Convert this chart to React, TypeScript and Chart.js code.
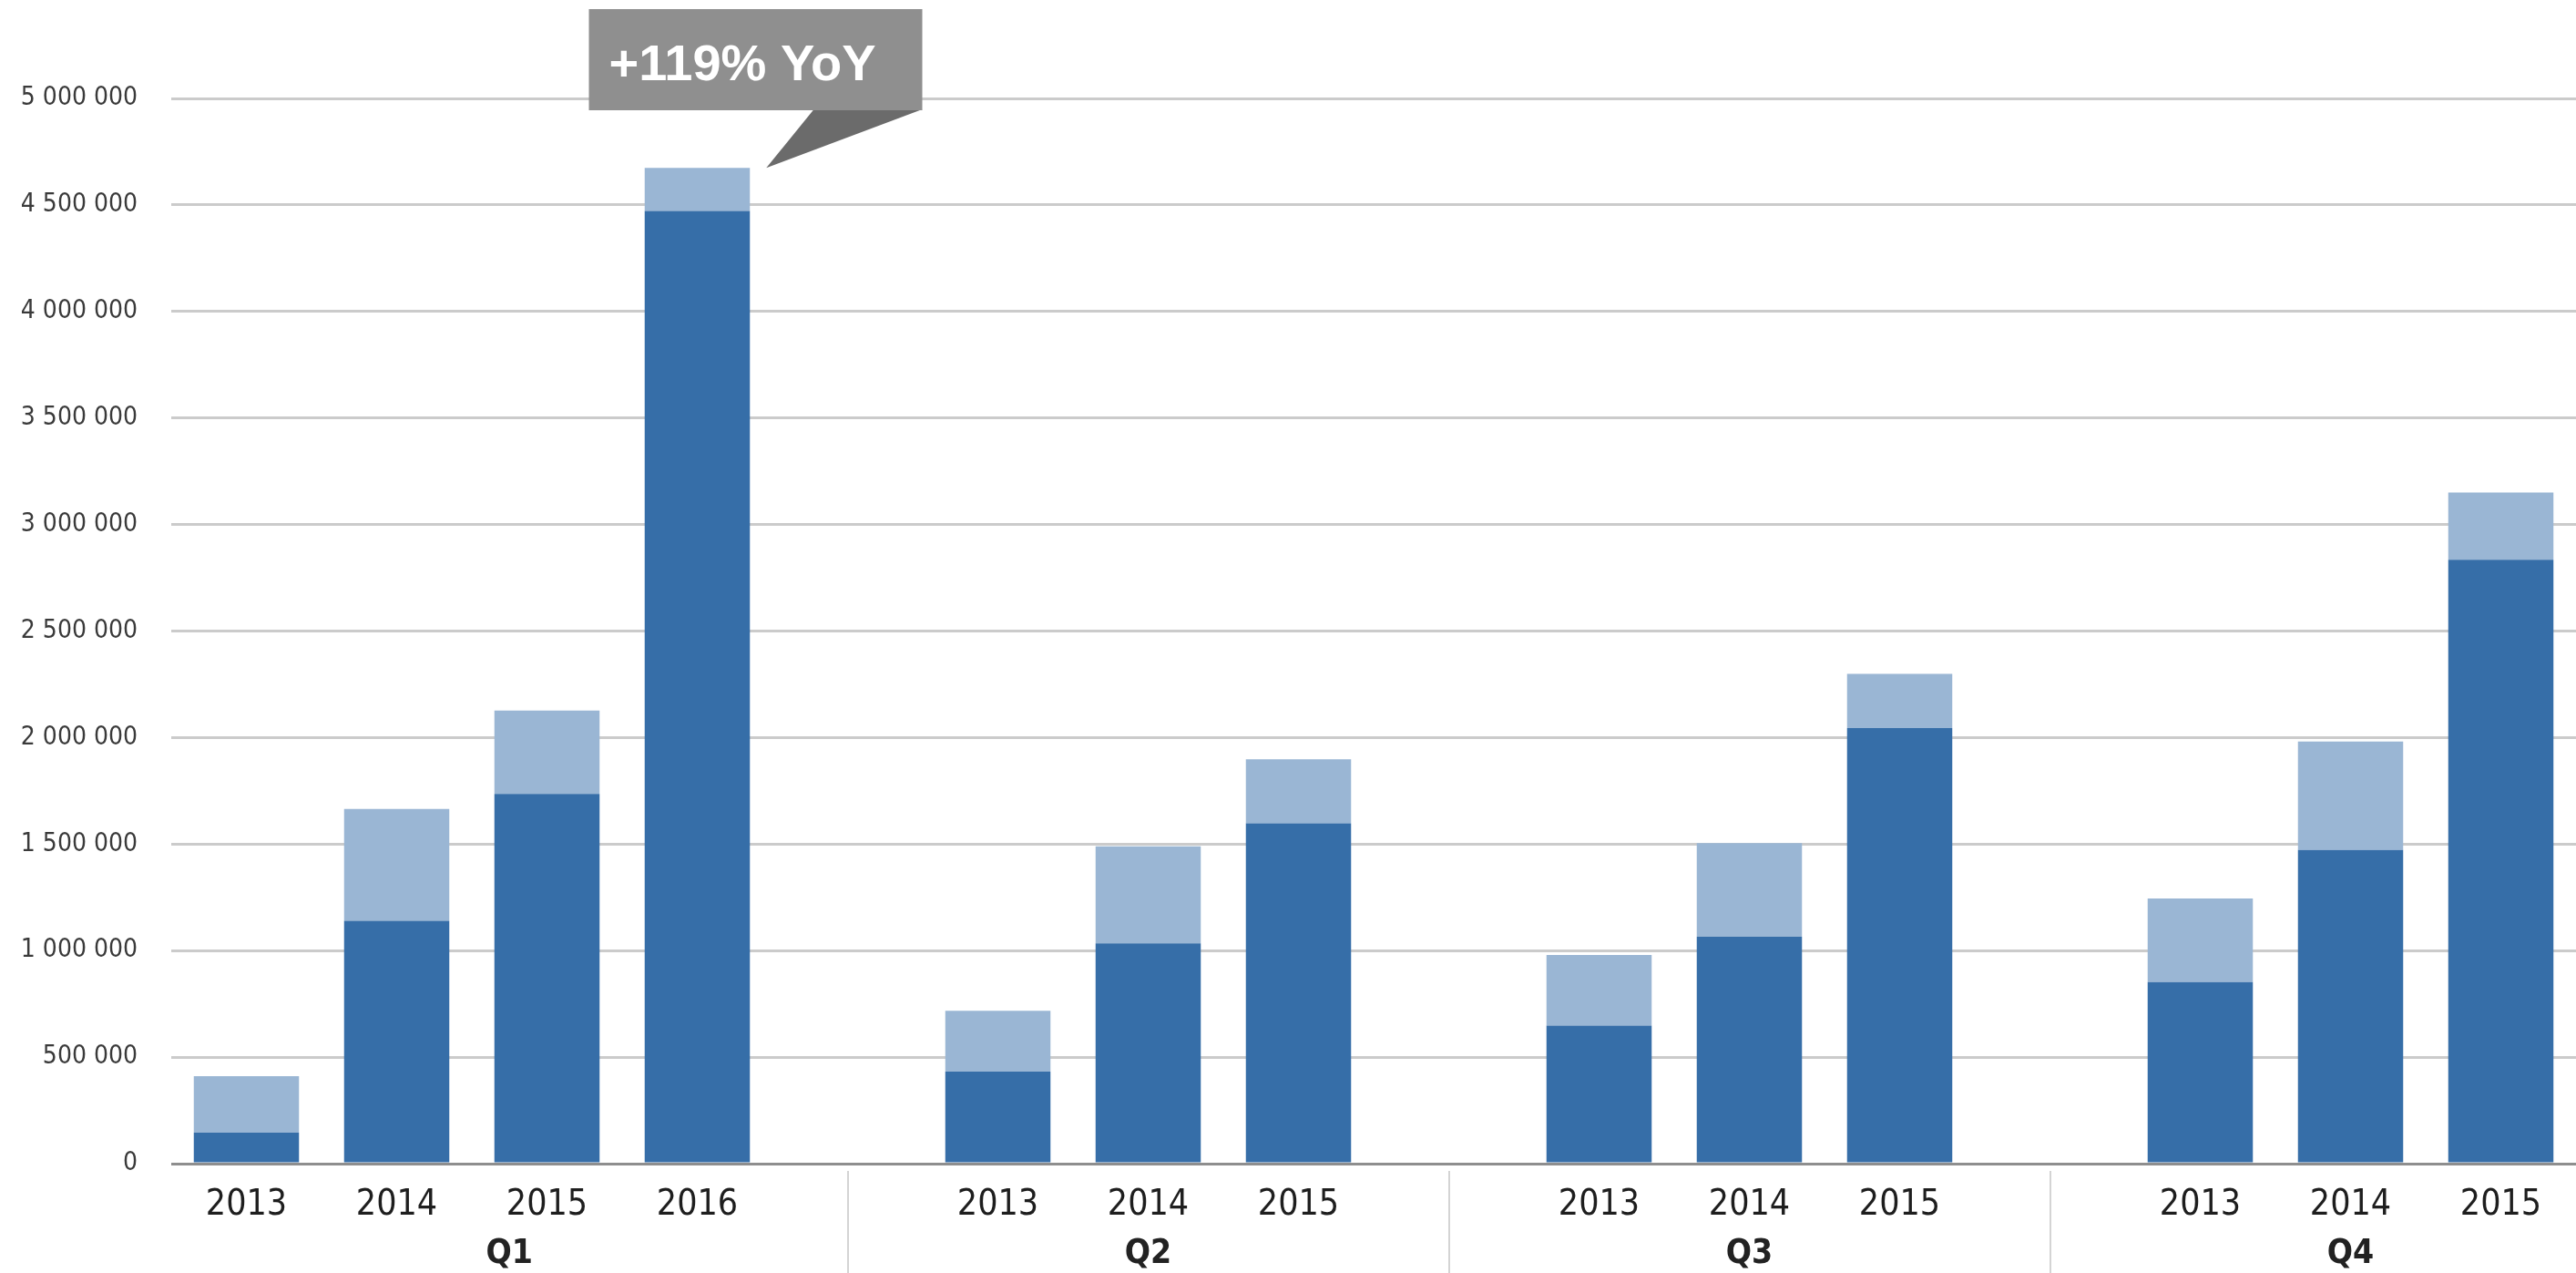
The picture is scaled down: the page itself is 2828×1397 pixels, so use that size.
import React, { useEffect, useRef } from 'react';
import { Chart, registerables } from 'chart.js';

Chart.register(...registerables);

// ---- data ----
const categories = ['2013', '2014', '2015', '2016', '', '2013', '2014', '2015', '', '2013', '2014', '2015', '', '2013', '2014', '2015'];
const quarterLabels = ['Q1', 'Q2', 'Q3', 'Q4'];
const baseValues = [145000, 1140000, 1735000, 4472000, null, 432000, 1034000, 1597000, null, 648000, 1065000, 2045000, null, 852000, 1472000, 2835000];
const topValues = [266000, 525000, 392000, 202000, null, 286000, 455000, 301000, null, 332000, 440000, 254000, null, 393000, 509000, 315000];
const yTickMax = 5000000;
const yTickStep = 500000;
const calloutText = '+119% YoY';
const calloutIndex = 3;

const NARROW = "'DejaVu Sans Condensed', 'Liberation Sans Narrow', 'Liberation Sans', sans-serif";
const WIDE = "'Liberation Sans', Arial, sans-serif";

const fmt = (v: number) => String(Math.round(v)).replace(/\B(?=(\d{3})+(?!\d))/g, ' ');

const decorPlugin = {
  id: 'decor',
  afterDraw(chart: any) {
    const ctx = chart.ctx;
    const xs = chart.scales.x;
    const area = chart.chartArea;
    const blanks = categories.map((c, i) => (c === '' ? i : -1)).filter((i) => i >= 0);
    ctx.save();
    // group separators
    ctx.strokeStyle = '#d4d4d4';
    ctx.lineWidth = 2;
    blanks.forEach((i) => {
      const px = Math.round(xs.getPixelForValue(i));
      ctx.beginPath();
      ctx.moveTo(px, area.bottom + 8);
      ctx.lineTo(px, chart.height);
      ctx.stroke();
    });
    // quarter labels
    const bounds = [area.left, ...blanks.map((i) => xs.getPixelForValue(i)), xs.getPixelForValue(categories.length)];
    ctx.font = `bold 37px ${NARROW}`;
    ctx.fillStyle = '#222222';
    ctx.textAlign = 'center';
    ctx.textBaseline = 'middle';
    quarterLabels.forEach((q, k) => {
      ctx.fillText(q, (bounds[k] + bounds[k + 1]) / 2, area.bottom + 99);
    });
    // callout
    const bar = chart.getDatasetMeta(1).data[calloutIndex];
    if (bar) {
      const cx = bar.x;
      const tipX = cx + bar.width / 2 + 18;
      const tipY = bar.y;
      const boxL = cx - 119;
      const boxR = cx + 247;
      const boxT = area.top - 98;
      const boxB = area.top + 13;
      ctx.fillStyle = '#6b6b6b';
      ctx.beginPath();
      ctx.moveTo(boxR - 119, boxB - 1);
      ctx.lineTo(boxR, boxB - 1);
      ctx.lineTo(tipX, tipY);
      ctx.closePath();
      ctx.fill();
      ctx.fillStyle = '#8f8f8f';
      ctx.fillRect(boxL, boxT, boxR - boxL, boxB - boxT);
      ctx.fillStyle = '#ffffff';
      ctx.font = `bold 56px ${WIDE}`;
      ctx.textAlign = 'left';
      ctx.textBaseline = 'alphabetic';
      ctx.fillText(calloutText, boxL + 22, boxT + 78);
    }
    ctx.restore();
  },
};

export default function App() {
  const ref = useRef<HTMLCanvasElement | null>(null);

  useEffect(() => {
    document.body.style.margin = '0';
    document.body.style.overflow = 'hidden';
    const canvas = ref.current;
    if (!canvas) return;
    const chart = new Chart(canvas, {
      type: 'bar',
      data: {
        labels: categories,
        datasets: [
          { label: 'base', data: baseValues as any, backgroundColor: '#366ea8', barPercentage: 0.7, categoryPercentage: 1 },
          { label: 'top', data: topValues as any, backgroundColor: '#9ab6d4', barPercentage: 0.7, categoryPercentage: 1 },
        ],
      },
      options: {
        responsive: false,
        animation: false,
        devicePixelRatio: 1,
        layout: { padding: { top: 108, left: 0, right: -16, bottom: 0 } },
        plugins: { legend: { display: false }, tooltip: { enabled: false } },
        scales: {
          x: {
            stacked: true,
            grid: { display: false },
            border: { display: false },
            ticks: {
              autoSkip: false,
              maxRotation: 0,
              padding: 14,
              color: '#1e1e1e',
              font: { family: NARROW, size: 39 },
            },
            afterFit: (s: any) => { s.height = 120; },
          },
          y: {
            stacked: true,
            min: 0,
            max: yTickMax,
            grid: {
              drawTicks: false,
              color: (c: any) => (c.tick && c.tick.value === 0 ? '#8e8e8e' : '#cbcbcb'),
              lineWidth: (c: any) => (c.tick && c.tick.value === 0 ? 3 : 3),
            },
            border: { display: false },
            ticks: {
              stepSize: yTickStep,
              padding: 37,
              color: '#3a3a3a',
              font: { family: NARROW, size: 28 },
              callback: (v: any) => fmt(Number(v)),
            },
            afterFit: (s: any) => { s.width = 188; },
          },
        },
      },
      plugins: [decorPlugin],
    });
    return () => chart.destroy();
  }, []);

  return <canvas ref={ref} width={2828} height={1397} style={{ display: 'block', width: 2828, height: 1397 }} />;
}
